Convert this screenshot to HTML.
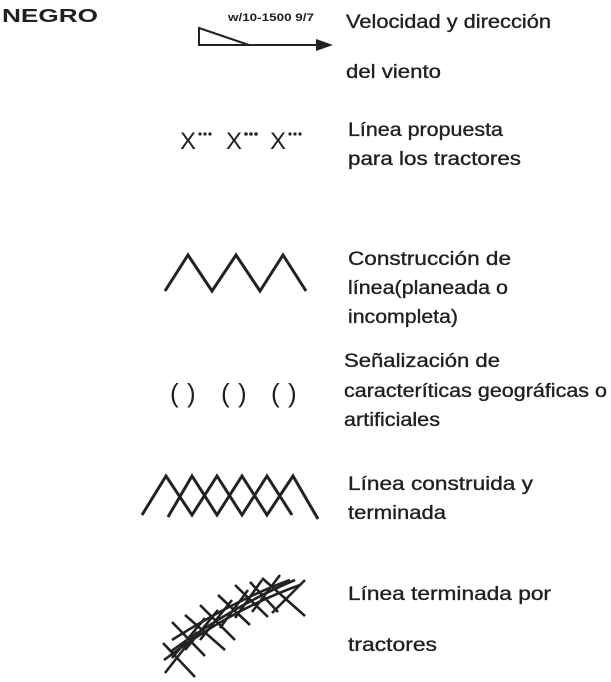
<!DOCTYPE html>
<html><head><meta charset="utf-8"><style>
html,body{margin:0;padding:0;background:#fff;}
svg{display:block;}
text{font-family:"Liberation Sans",sans-serif;fill:#231f20;}
</style></head><body>
<svg width="611" height="682" viewBox="0 0 611 682" xmlns="http://www.w3.org/2000/svg">
<text x="2" y="22" style="font-weight:bold;font-size:18px" textLength="96" lengthAdjust="spacingAndGlyphs">NEGRO</text>
<text x="228" y="21" style="font-size:11px;font-weight:bold" textLength="86" lengthAdjust="spacingAndGlyphs">w/10-1500 9/7</text>
<polygon points="199,28 249,45 199,45" fill="none" stroke="#222" stroke-width="2"/>
<line x1="249" y1="45" x2="320" y2="45" stroke="#222" stroke-width="2"/>
<polygon points="316,39 333,45 316,51" fill="#222"/>

<g style="font-size:19px;stroke:#231f20;stroke-width:0.35">
<text x="346" y="28" textLength="205" lengthAdjust="spacingAndGlyphs">Velocidad y dirección</text>
<text x="346" y="78" textLength="95" lengthAdjust="spacingAndGlyphs">del viento</text>
<text x="348" y="136" textLength="155" lengthAdjust="spacingAndGlyphs">Línea propuesta</text>
<text x="348" y="165" textLength="173" lengthAdjust="spacingAndGlyphs">para los tractores</text>
<text x="348" y="265" textLength="163" lengthAdjust="spacingAndGlyphs">Construcción de</text>
<text x="348" y="294" textLength="160" lengthAdjust="spacingAndGlyphs">línea(planeada o</text>
<text x="348" y="323" textLength="110" lengthAdjust="spacingAndGlyphs">incompleta)</text>
<text x="344" y="367" textLength="156" lengthAdjust="spacingAndGlyphs">Señalización de</text>
<text x="344" y="397" textLength="263" lengthAdjust="spacingAndGlyphs">caracteríticas geográficas o</text>
<text x="344" y="426" textLength="96" lengthAdjust="spacingAndGlyphs">artificiales</text>
<text x="348" y="490" textLength="185" lengthAdjust="spacingAndGlyphs">Línea  construida y</text>
<text x="348" y="519" textLength="98" lengthAdjust="spacingAndGlyphs">terminada</text>
<text x="348" y="600" textLength="203" lengthAdjust="spacingAndGlyphs">Línea  terminada por</text>
<text x="348" y="651" textLength="89" lengthAdjust="spacingAndGlyphs">tractores</text>
</g>

<g style="font-size:24px">
<text x="180" y="149">X</text><text x="226" y="149">X</text><text x="270" y="149">X</text>
</g>
<g fill="#222">
<circle cx="200" cy="134" r="1.6"/><circle cx="205" cy="134" r="1.6"/><circle cx="210" cy="134" r="1.6"/>
<circle cx="246" cy="134" r="1.8"/><circle cx="251" cy="134" r="1.8"/><circle cx="256" cy="134" r="1.8"/>
<circle cx="290" cy="134" r="1.6"/><circle cx="295" cy="134" r="1.6"/><circle cx="300" cy="134" r="1.6"/>
</g>

<polyline points="165,291 188,255 212,291 236,255 260,291 283,255 306,291" fill="none" stroke="#222" stroke-width="3"/>

<g style="font-family:'Liberation Serif',serif;font-size:26px">
<text x="170" y="402">(</text><text x="187" y="402">)</text>
<text x="221" y="402">(</text><text x="238" y="402">)</text>
<text x="271" y="402">(</text><text x="288" y="402">)</text>
</g>

<polyline points="142,515 166,476 192,515 217,476 242,515 267,476 292,515" fill="none" stroke="#222" stroke-width="3"/>
<polyline points="168,517 192,476 217,515 242,476 267,515 293,476 318,519" fill="none" stroke="#222" stroke-width="3"/>

<g stroke="#222" stroke-width="2.6" fill="none">
<path d="M164,660 Q230,610 300,585"/>
<path d="M170,652 Q235,605 295,580"/>
<path d="M172,640 Q235,600 290,580"/>
<line x1="163" y1="643" x2="195" y2="677"/><line x1="197" y1="632" x2="165" y2="673"/>
<line x1="172" y1="622" x2="205" y2="656"/><line x1="205" y1="618" x2="172" y2="658"/>
<line x1="185" y1="615" x2="225" y2="650"/><line x1="218" y1="610" x2="185" y2="650"/>
<line x1="200" y1="605" x2="235" y2="640"/><line x1="232" y1="600" x2="200" y2="640"/>
<line x1="218" y1="595" x2="250" y2="625"/><line x1="248" y1="590" x2="220" y2="628"/>
<line x1="235" y1="585" x2="268" y2="617"/><line x1="262" y1="580" x2="235" y2="618"/>
<line x1="250" y1="582" x2="278" y2="612"/><line x1="280" y1="575" x2="252" y2="612"/>
<line x1="262" y1="578" x2="305" y2="616"/><line x1="305" y1="580" x2="272" y2="613"/>
</g>
</svg>
</body></html>
